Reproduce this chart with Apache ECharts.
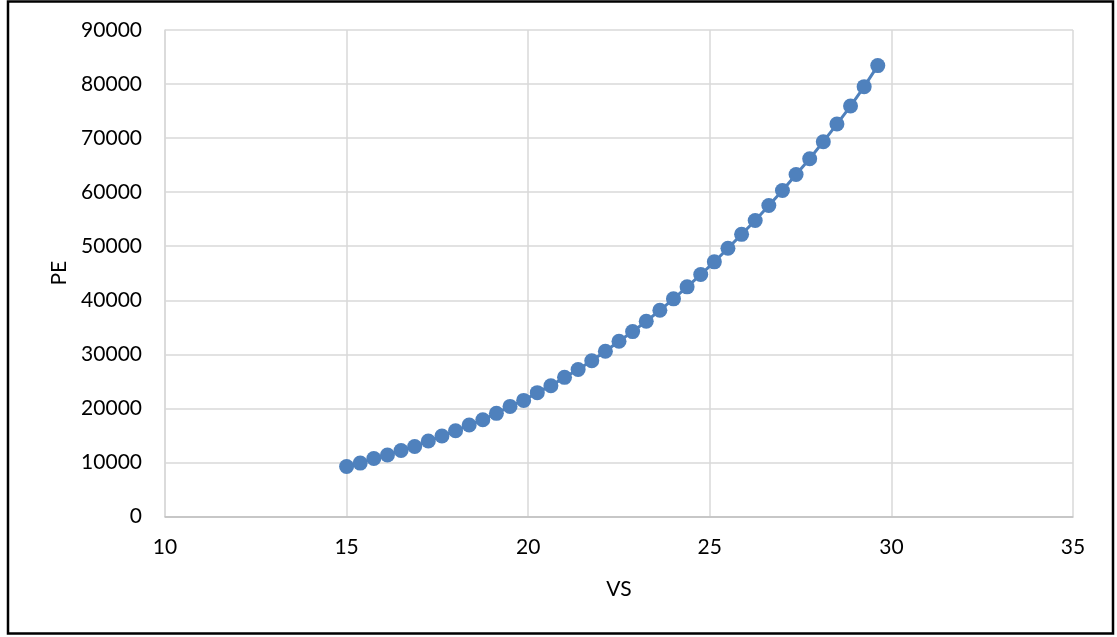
<!DOCTYPE html>
<html>
<head>
<meta charset="utf-8">
<script src="https://cdn.jsdelivr.net/npm/echarts@6/dist/echarts.min.js"></script>
<style>
html,body{margin:0;padding:0;background:#fff;}
#chart{width:1117px;height:637px;}
</style>
</head>
<body>
<div id="chart"></div>
<script>
const vsValues = [15, 15.375, 15.75, 16.125, 16.5, 16.875, 17.25, 17.625, 18, 18.375,
  18.75, 19.125, 19.5, 19.875, 20.25, 20.625, 21, 21.375, 21.75, 22.125,
  22.5, 22.875, 23.25, 23.625, 24, 24.375, 24.75, 25.125, 25.5, 25.875,
  26.25, 26.625, 27, 27.375, 27.75, 28.125, 28.5, 28.875, 29.25, 29.625];
const peValues = [9260, 9880, 10740, 11370, 12220, 12960, 13960, 14890, 15870, 16930,
  17910, 19080, 20370, 21480, 22910, 24200, 25740, 27200, 28800, 30560,
  32410, 34210, 36110, 38150, 40260, 42480, 44760, 47110, 49630, 52200,
  54760, 57540, 60320, 63280, 66190, 69340, 72600, 75930, 79520, 83410];
const xAxisTitle = 'VS';
const yAxisTitle = 'PE';

const chart = echarts.init(document.getElementById('chart'), null, {renderer: 'canvas'});
const font = 'Lato, "Liberation Sans", sans-serif';
const gridColor = '#D9D9D9';
chart.setOption({
  animation: false,
  backgroundColor: '#fff',
  graphic: [{
    type: 'rect',
    shape: {x: 8, y: 1.5, width: 1105, height: 632},
    style: {fill: 'none', stroke: '#000', lineWidth: 2.5},
    silent: true
  }],
  grid: {left: 165, right: 44, top: 30, bottom: 120.5},
  xAxis: {
    type: 'value', min: 10, max: 35, interval: 5,
    name: xAxisTitle, nameLocation: 'middle', nameGap: 62,
    nameTextStyle: {fontFamily: font, fontSize: 21, color: '#000'},
    axisLine: {show: true, lineStyle: {color: '#BFBFBF', width: 1.5}},
    axisTick: {show: false},
    axisLabel: {fontFamily: font, fontSize: 21, color: '#000', margin: 20,
      formatter: v => String(v)},
    splitLine: {show: true, lineStyle: {color: gridColor, width: 1.5}}
  },
  yAxis: {
    type: 'value', min: 0, max: 90000, interval: 10000,
    name: yAxisTitle, nameLocation: 'middle', nameGap: 95, nameRotate: 90,
    nameTextStyle: {fontFamily: font, fontSize: 21, color: '#000'},
    axisLine: {show: true, lineStyle: {color: gridColor, width: 1.5}},
    axisTick: {show: false},
    axisLabel: {fontFamily: font, fontSize: 21, color: '#000', margin: 23,
      formatter: v => String(v)},
    splitLine: {show: true, lineStyle: {color: gridColor, width: 1.5}}
  },
  series: [{
    type: 'line',
    data: vsValues.map((v, i) => [v, peValues[i]]),
    symbol: 'circle', symbolSize: 15,
    lineStyle: {color: '#4F81BD', width: 3},
    itemStyle: {color: '#4F81BD'}
  }]
});
</script>
</body>
</html>
